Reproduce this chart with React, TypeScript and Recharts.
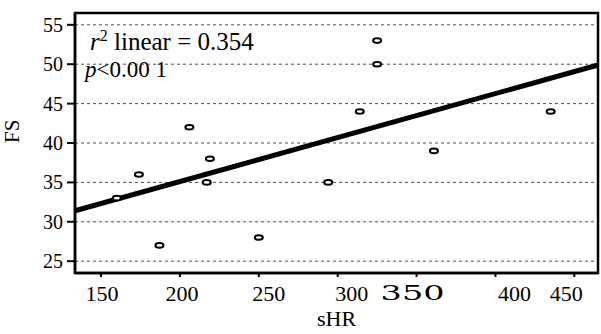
import { ScatterChart, Scatter, XAxis, YAxis, CartesianGrid, ReferenceLine, ReferenceArea, Label } from 'recharts';

const shr = [160, 174, 187, 206, 217, 219, 250, 294, 314, 325, 325, 361, 435];
const fs = [33, 36, 27, 42, 35, 38, 28, 35, 44, 53, 50, 39, 44];
const xTicks = [150, 200, 250, 300, 350, 400, 450];
const yTicks = [25, 30, 35, 40, 45, 50, 55];
const xDomain = [133.5, 465];
const yDomain = [23.5, 56.5];
// fitted line end points
const fitX = [133.5, 465];
const fitY = [31.4, 49.9];
const r2Text = '0.354';
const pText = '<0.00 1';

const points = shr.map((x, i) => ({ x, y: fs[i] }));

const FONT = 'Liberation Serif, Times New Roman, serif';

// the original labels sit a bit off their ticks
const xTickDx = [1, 2, 10, 14, -4, 19, -8];

function XTick({ x, y, payload, index }: any) {
  const odd = payload.value === 350;
  return (
    <text
      x={x + (xTickDx[index] ?? 0)}
      y={y}
      dy="0.71em"
      textAnchor="middle"
      fill="#000"
      fontFamily={odd ? 'DejaVu Serif, serif' : FONT}
      fontSize={odd ? 21 : 22}
      textLength={odd ? 64 : undefined}
      lengthAdjust={odd ? 'spacingAndGlyphs' : undefined}
    >
      {payload.value}
    </text>
  );
}

function Dot({ cx, cy }: any) {
  return <ellipse cx={cx} cy={cy} rx={4} ry={2.3} fill="#fff" stroke="#000" strokeWidth={2} />;
}

function Annotation({ viewBox }: any) {
  const { x, y } = viewBox;
  return (
    <g fontFamily={FONT} fill="#000">
      <text x={x + 15} y={y + 37} fontSize={25}>
        <tspan fontStyle="italic">r</tspan>
        <tspan dy={-9} fontSize={16}>2</tspan>
        <tspan dy={9}> linear = {r2Text}</tspan>
      </text>
      <text x={x + 10} y={y + 64} fontSize={23}>
        <tspan fontStyle="italic">p</tspan>
        <tspan>{pText}</tspan>
      </text>
    </g>
  );
}

export default function App() {
  return (
    <div style={{ position: 'absolute', left: 0, top: 0, background: '#fff' }}>
      <ScatterChart width={601} height={334} margin={{ top: 13, right: 3, bottom: 0, left: 0 }}>
        <CartesianGrid vertical={false} stroke="#222" strokeWidth={0.8} strokeDasharray="3 3" />
        <XAxis
          type="number"
          dataKey="x"
          domain={xDomain}
          ticks={xTicks}
          allowDataOverflow
          height={61}
          tickSize={4}
          tickMargin={8}
          axisLine={{ stroke: '#000', strokeWidth: 2.5 }}
          tickLine={{ stroke: '#000', strokeWidth: 2 }}
          tick={<XTick />}
        >
          <Label value="sHR" position="insideBottom" offset={8} fontFamily={FONT} fontSize={22} fill="#000" />
        </XAxis>
        <YAxis
          type="number"
          dataKey="y"
          domain={yDomain}
          ticks={yTicks}
          allowDataOverflow
          width={75}
          tickSize={8}
          tickMargin={4}
          axisLine={{ stroke: '#000', strokeWidth: 2.5 }}
          tickLine={{ stroke: '#000', strokeWidth: 2 }}
          tick={{ fill: '#000', fontFamily: FONT, fontSize: 20 }}
        >
          <Label value="FS" angle={-90} position="insideLeft" offset={12} fontFamily={FONT} fontSize={21} fill="#000" />
        </YAxis>
        <ReferenceArea
          x1={xDomain[0]}
          x2={xDomain[1]}
          y1={yDomain[0]}
          y2={yDomain[1]}
          fill="none"
          stroke="#000"
          strokeWidth={2.5}
        >
          <Label content={Annotation} />
        </ReferenceArea>
        <ReferenceLine
          segment={[
            { x: fitX[0], y: fitY[0] },
            { x: fitX[1], y: fitY[1] },
          ]}
          stroke="#000"
          strokeWidth={5}
        />
        <Scatter data={points} shape={<Dot />} isAnimationActive={false} />
      </ScatterChart>
    </div>
  );
}
